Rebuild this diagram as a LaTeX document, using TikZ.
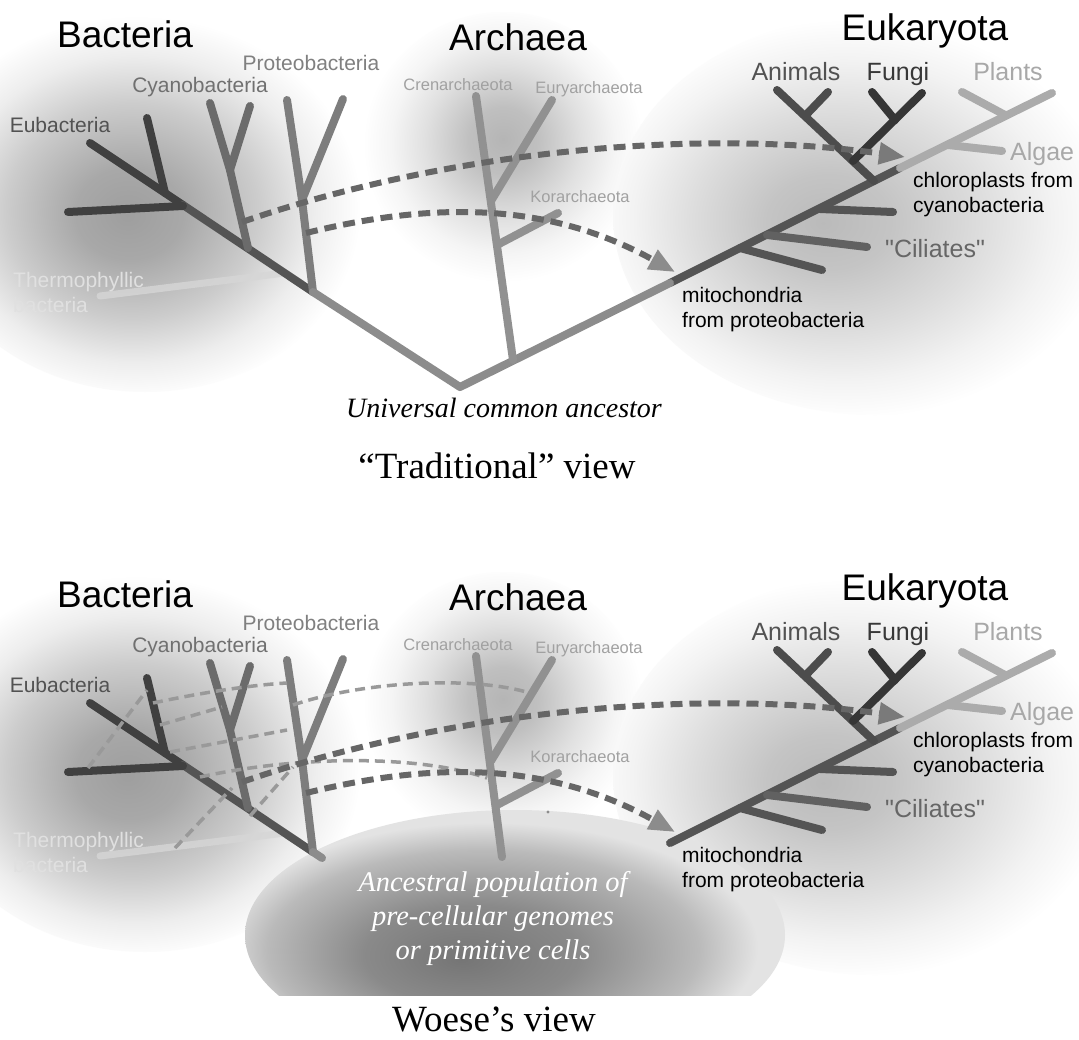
\documentclass[tikz,border=0pt]{standalone}
\usepackage{fontspec}
\setmainfont{Liberation Serif}
\newfontfamily\lsans{Liberation Sans}
\usetikzlibrary{arrows.meta}

\pgfdeclareradialshading{ellshade}{\pgfpoint{-5bp}{-5bp}}{color(0bp)=(black!54); color(10bp)=(black!46); color(20bp)=(black!27); color(25bp)=(black!11); color(50bp)=(black!11)}
\pgfdeclareradialshading{blobA}{\pgfpoint{-2bp}{-2bp}}{color(0bp)=(black!38); color(6bp)=(black!34); color(14bp)=(black!20); color(20bp)=(black!7); color(25bp)=(white); color(50bp)=(white)}
\pgfdeclareradialshading{blobB}{\pgfpoint{0bp}{2bp}}{color(0bp)=(black!29); color(6bp)=(black!25); color(14bp)=(black!12); color(20bp)=(black!4); color(25bp)=(white); color(50bp)=(white)}
\pgfdeclareradialshading{blobC}{\pgfpoint{-5bp}{-1bp}}{color(0bp)=(black!27); color(6bp)=(black!23); color(14bp)=(black!13); color(20bp)=(black!5); color(25bp)=(white); color(50bp)=(white)}

\definecolor{cDk}{gray}{0.25}
\definecolor{cMd}{gray}{0.33}
\definecolor{cCy}{gray}{0.42}
\definecolor{cPr}{gray}{0.49}
\definecolor{cLt}{gray}{0.55}
\definecolor{cAr}{gray}{0.57}
\definecolor{cPl}{gray}{0.67}
\definecolor{cAn}{gray}{0.30}
\definecolor{cFu}{gray}{0.21}
\definecolor{cCi}{gray}{0.38}
\definecolor{cTh}{gray}{0.84}
\definecolor{cDash}{gray}{0.40}
\definecolor{cLDash}{gray}{0.60}

\tikzset{
  br/.style={line width=8pt, line cap=round, line join=round},
  dsh/.style={draw=cDash, line width=6pt, dash pattern=on 12pt off 7pt},
  ldsh/.style={draw=cLDash, line width=3.5pt, dash pattern=on 10pt off 6pt},
  ttl/.style={font=\lsans\fontsize{37}{40}\selectfont, anchor=base, inner sep=0pt},
  blab/.style={font=\lsans\fontsize{21}{24}\selectfont, anchor=base, inner sep=0pt},
  alab/.style={font=\lsans\fontsize{16.5}{19}\selectfont, anchor=base, inner sep=0pt, text=black!37},
  elab/.style={font=\lsans\fontsize{25}{28}\selectfont, anchor=base, inner sep=0pt},
  note/.style={font=\lsans\fontsize{21}{25}\selectfont, anchor=north west, align=left, inner sep=0pt, text=black},
  thlab/.style={font=\lsans\fontsize{21}{25}\selectfont, anchor=north west, align=left, inner sep=0pt, text=black!12},
  serif/.style={font=\fontsize{37}{40}\selectfont, anchor=base, inner sep=0pt}
}

\newcommand\panelcore[1]{%
  \coordinate (#1eubTop) at (90,143);
  \coordinate (#1eubJ) at (183,205);
  \coordinate (#1proJ) at (313,292);
  \coordinate (#1eubVt) at (147,118);
  \coordinate (#1eubVj) at (165,193);
  \coordinate (#1eubH) at (68,212);
  \coordinate (#1eubHj) at (183,206);
  \coordinate (#1cyJ) at (248,248);
  \coordinate (#1cyF) at (230,170);
  \coordinate (#1cyL) at (210,103);
  \coordinate (#1cyR) at (250,106);
  \coordinate (#1prF) at (302,200);
  \coordinate (#1prL) at (287,100);
  \coordinate (#1prR) at (343,99);
  \coordinate (#1thA) at (100,296);
  \coordinate (#1thB) at (285,273);
  \coordinate (#1crT) at (476,96);
  \coordinate (#1euJ) at (491,201);
  \coordinate (#1euT) at (552,100);
  \coordinate (#1koJ) at (497,245);
  \coordinate (#1koT) at (558,213);
  \coordinate (#1mito) at (670,283);
  \coordinate (#1chl) at (900,168);
  \coordinate (#1trE) at (1052,93);
  \coordinate (#1anJ) at (874,181);
  \coordinate (#1anT) at (777,90);
  \coordinate (#1anAj) at (805,116);
  \coordinate (#1anAt) at (828,92);
  \coordinate (#1fuJ) at (853,161);
  \coordinate (#1fuT) at (922,93);
  \coordinate (#1fuAj) at (895,120);
  \coordinate (#1fuAt) at (872,92);
  \coordinate (#1plJ) at (1005,115);
  \coordinate (#1plT) at (962,92);
  \coordinate (#1alJ) at (948,145);
  \coordinate (#1alT) at (1002,151);
  \coordinate (#1eaJ) at (820,209);
  \coordinate (#1eaT) at (893,212);
  \coordinate (#1ciJ) at (767,235);
  \coordinate (#1ciT) at (867,247);
  \coordinate (#1ebJ) at (740,248);
  \coordinate (#1ebT) at (822,270);
  \coordinate (#1cyS) at (242,222);
  \coordinate (#1prS) at (306,233);
  \coordinate (#1chlTip) at (905,157);
  \coordinate (#1mitoTip) at (675,272);
}

\newcommand\panelblobs{%
  \shade[shading=blobB] (503,150) ellipse [x radius=140pt, y radius=138pt];
  \shade[shading=blobC] (875,215) ellipse [x radius=262pt, y radius=200pt];
  \shade[shading=blobA] (145,200) ellipse [x radius=225pt, y radius=192pt];
}

\newcommand\paneltree[1]{%
  \node[thlab] (#1the) at (13,272) {Thermophyllic\\bacteria};
  \draw[br, cTh, line width=7pt, opacity=0.8] (#1thA) -- (#1thB);
  \draw[br, cDk] (#1eubTop) -- (#1eubJ);
  \draw[br, cMd] (#1eubJ) -- (#1proJ);
  \draw[br, cDk] (#1eubVt) -- (#1eubVj);
  \draw[br, cDk] (#1eubH) -- (#1eubHj);
  \draw[br, cCy] (#1cyJ) -- (#1cyF) -- (#1cyL);
  \draw[br, cCy] (#1cyF) -- (#1cyR);
  \draw[br, cPr] (#1proJ) -- (#1prF) -- (#1prL);
  \draw[br, cPr] (#1prF) -- (#1prR);
  \draw[br, cAr] (#1euJ) -- (#1euT);
  \draw[br, cAr] (#1koJ) -- (#1koT);
  \draw[br, cMd] (#1mito) -- (#1chl);
  \draw[br, cPl] (#1chl) -- (#1trE);
  \draw[br, cPl] (#1plJ) -- (#1plT);
  \draw[br, cPl] (#1alJ) -- (#1alT);
  \draw[br, cAn] (#1anJ) -- (#1anT);
  \draw[br, cAn] (#1anAj) -- (#1anAt);
  \draw[br, cFu] (#1fuJ) -- (#1fuT);
  \draw[br, cFu] (#1fuAj) -- (#1fuAt);
  \draw[br, cMd] (#1eaJ) -- (#1eaT);
  \draw[br, cCi] (#1ciJ) -- (#1ciT);
  \draw[br, cMd] (#1ebJ) -- (#1ebT);
}

\newcommand\paneldash[1]{%
  \draw[dsh, -{Triangle[length=26pt,width=21pt,color=black!52]}] (#1cyS) .. controls (450,150) and (700,128) .. (#1chlTip);
  \draw[dsh, -{Triangle[length=26pt,width=21pt,color=black!45]}] (#1prS) .. controls (420,205) and (540,197) .. (#1mitoTip);
}

\newcommand\panellabels[1]{%
  \node[ttl] (#1bac) at (125,47) {Bacteria};
  \node[ttl] (#1arc) at (518,50) {Archaea};
  \node[ttl] (#1euk) at (925,40) {Eukaryota};
  \node[blab, text=black!68] (#1eub) at (60,132) {Eubacteria};
  \node[blab, text=black!56] (#1cya) at (200,92) {Cyanobacteria};
  \node[blab, text=black!50] (#1pro) at (311,70) {Proteobacteria};
  \node[alab] (#1cre) at (458,90) {Crenarchaeota};
  \node[alab] (#1eur) at (589,93) {Euryarchaeota};
  \node[alab] (#1kor) at (580,202) {Korarchaeota};
  \node[elab, text=black!68] (#1ani) at (796,80) {Animals};
  \node[elab, text=black!78] (#1fun) at (898,80) {Fungi};
  \node[elab, text=black!34] (#1pla) at (1008,80) {Plants};
  \node[elab, text=black!34, anchor=base west] (#1alg) at (1010,160) {Algae};
  \node[elab, text=black!60, anchor=base west] (#1cil) at (885,257) {"Ciliates"};
  \node[note] (#1chln) at (913,172) {chloroplasts from\\cyanobacteria};
  \node[note] (#1mitn) at (682,287) {mitochondria\\from proteobacteria};
}

\begin{document}
\begin{tikzpicture}[x=1pt,y=-1pt]
\useasboundingbox (0,0) rectangle (1079,1039);
\fill[white] (0,0) rectangle (1079,1039);
\begin{scope}
  \clip (0,0) rectangle (1079,1039);
  % ---------- top panel ----------
  \panelblobs
  \panelcore{t}
  \coordinate (troot) at (460,387);
  \coordinate (tarB) at (513,360);
  \paneltree{t}
  \draw[br, cLt] (tproJ) -- (troot) -- (tmito);
  \draw[br, cAr] (tarB) -- (tcrT);
  \paneldash{t}
  \panellabels{t}
  % ---------- bottom panel ----------
  \begin{scope}[shift={(0,560)}]
    \panelblobs
    \begin{scope}
      \clip (0,0) rectangle (1079,435);
      \shade[shading=ellshade] (515,375) ellipse [x radius=270pt, y radius=125pt];
    \end{scope}
    \panelcore{b}
    \coordinate (bbEnd) at (322,298);
    \coordinate (barB) at (502,297);
    \paneltree{b}
    \draw[br, cLt] (bproJ) -- (bbEnd);
    \draw[br, cAr] (barB) -- (bcrT);
    % light dashed exchange lines
    \coordinate (la1) at (88,208);  \coordinate (la2) at (147,130);
    \coordinate (lb1) at (153,143); \coordinate (lb2) at (287,123);
    \coordinate (lc1) at (293,145); \coordinate (lc2) at (530,133);
    \coordinate (ld1) at (160,165); \coordinate (ld2) at (222,147);
    \coordinate (le1) at (170,192); \coordinate (le2) at (287,170);
    \coordinate (lf1) at (200,217); \coordinate (lf2) at (487,218);
    \coordinate (lg1) at (175,288); \coordinate (lg2) at (232,228);
    \coordinate (lh1) at (250,256); \coordinate (lh2) at (293,207);
    \draw[ldsh] (la1) -- (la2);
    \draw[ldsh] (lb1) .. controls (200,133) and (250,125) .. (lb2);
    \draw[ldsh] (lc1) .. controls (360,122) and (470,115) .. (lc2);
    \draw[ldsh] (ld1) -- (ld2);
    \draw[ldsh] (le1) -- (le2);
    \draw[ldsh] (lf1) .. controls (300,195) and (420,195) .. (lf2);
    \draw[ldsh] (lg1) -- (lg2);
    \draw[ldsh] (lh1) -- (lh2);
    \fill[black!45] (548,252) circle [radius=1.6pt];
    \paneldash{b}
    \panellabels{b}
    \node[font=\itshape\fontsize{28.5}{34}\selectfont, text=white, align=center, anchor=north, inner sep=0pt] (anc) at (493,311) {Ancestral population of\\pre-cellular genomes\\or primitive cells};
  \end{scope}
\end{scope}
\node[font=\itshape\fontsize{28}{30}\selectfont, anchor=base, inner sep=0pt] (uca) at (504,417) {Universal common ancestor};
\node[serif] (trad) at (497,478) {“Traditional” view};
\node[serif] (woese) at (494,1031) {Woese’s view};
\end{tikzpicture}
\end{document}
